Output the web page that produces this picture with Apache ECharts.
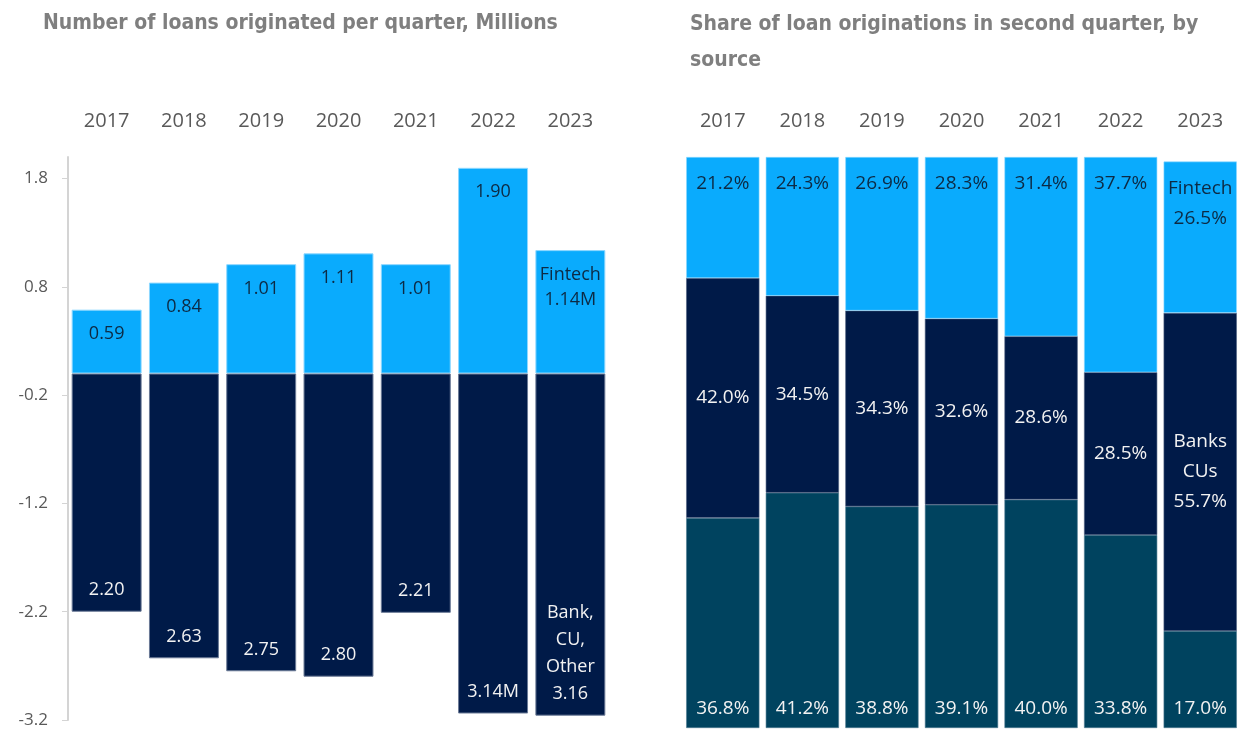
<!DOCTYPE html>
<html>
<head>
<meta charset="utf-8">
<script src="https://cdn.jsdelivr.net/npm/echarts@6/dist/echarts.min.js"></script>
<style>
	html, body { margin: 0; padding: 0; background: #fff; }
	#chart { width: 1244px; height: 729px; }
</style>
</head>
<body>
<div id="chart"></div>
<script>
	// data
	const years = ['2017', '2018', '2019', '2020', '2021', '2022', '2023'];
	// loans per quarter, millions
	const fintechLoans = [0.59, 0.84, 1.01, 1.11, 1.01, 1.90, 1.14];
	const bankLoans = [2.20, 2.63, 2.75, 2.80, 2.21, 3.14, 3.16];
	// share of originations, %
	const fintechShare = [21.2, 24.3, 26.9, 28.3, 31.4, 37.7, 26.5];
	const bankShare = [42.0, 34.5, 34.3, 32.6, 28.6, 28.5, 55.7];
	const otherShare = [36.8, 41.2, 38.8, 39.1, 40.0, 33.8, 17.0];
	const leftTicks = [-3.2, -2.2, -1.2, -0.2, 0.8, 1.8];

	const cLight = '#0aabfd';
	const cNavy = '#001a48';
	const cTeal = '#00435f';
	const labelFont = '"Open Sans", "Segoe UI", sans-serif';
	const titleFont = '"Liberation Sans Narrow", "DejaVu Sans Condensed", sans-serif';

	const lastIdx = years.length - 1;

	const chart = echarts.init(document.getElementById('chart'), null, { renderer: 'canvas' });

	const option = {
		animation: false,
		title: [{
			text: 'Number of loans originated per quarter, Millions',
			left: 38,
			top: 8,
			textStyle: { fontFamily: titleFont, fontSize: 21, fontWeight: 'bold', color: '#7f7f7f' }
		}, {
			text: 'Share of loan originations in second quarter, by\nsource',
			left: 685,
			top: 2,
			textStyle: { fontFamily: titleFont, fontSize: 21, fontWeight: 'bold', color: '#7f7f7f', lineHeight: 36 }
		}],
		grid: [
			{ left: 68, right: 635, top: 157, bottom: 9 },
			{ left: 683, right: 4, top: 157, bottom: 1 }
		],
		xAxis: [{
			type: 'category',
			gridIndex: 0,
			position: 'top',
			data: years,
			axisLine: { show: false },
			axisTick: { show: false },
			axisLabel: { margin: 26, fontFamily: labelFont, fontSize: 20, color: '#595959' }
		}, {
			type: 'category',
			gridIndex: 1,
			position: 'top',
			data: years,
			axisLine: { show: false },
			axisTick: { show: false },
			axisLabel: { margin: 26, fontFamily: labelFont, fontSize: 20, color: '#595959' }
		}],
		yAxis: [{
			type: 'value',
			gridIndex: 0,
			min: -3.2,
			max: 2.0,
			interval: 1,
			splitLine: { show: false },
			axisLine: { show: true, lineStyle: { color: '#d4d4d4', width: 2 } },
			axisTick: { show: true, length: 6, lineStyle: { color: '#d4d4d4', width: 1 } },
			axisLabel: {
				margin: 20,
				fontFamily: labelFont,
				fontSize: 17,
				color: '#595959',
				showMaxLabel: false,
				formatter: v => {
					const hit = leftTicks.find(t => Math.abs(t - v) < 1e-6);
					return hit === undefined ? '' : hit.toFixed(1);
				}
			}
		}, {
			type: 'value',
			gridIndex: 1,
			min: 0,
			max: 100,
			show: false
		}],
		series: [{
			name: 'Fintech',
			type: 'bar',
			xAxisIndex: 0,
			yAxisIndex: 0,
			data: fintechLoans,
			barCategoryGap: '9.5%',
			barGap: '-100%',
			itemStyle: { color: cLight, borderColor: '#8fd8ff', borderWidth: 1 },
			label: {
				show: true,
				position: 'insideTop',
				distance: 12,
				fontFamily: labelFont,
				fontSize: 18,
				lineHeight: 25,
				color: '#0d2a44',
				formatter: p => p.dataIndex === lastIdx
					? 'Fintech\n' + p.value.toFixed(2) + 'M'
					: p.value.toFixed(2)
			}
		}, {
			name: 'Bank, CU, Other',
			type: 'bar',
			xAxisIndex: 0,
			yAxisIndex: 0,
			data: bankLoans.map(v => -v),
			barCategoryGap: '9.5%',
			barGap: '-100%',
			itemStyle: { color: cNavy, borderColor: '#6a7a96', borderWidth: 1 },
			label: {
				show: true,
				position: 'insideBottom',
				distance: 8,
				fontFamily: labelFont,
				fontSize: 18,
				lineHeight: 27,
				color: '#f2f2f2',
				formatter: p => {
					const v = bankLoans[p.dataIndex].toFixed(2);
					if (p.dataIndex === lastIdx) return 'Bank,\nCU,\nOther\n' + v;
					if (p.dataIndex === 5) return v + 'M';
					return v;
				}
			}
		}, {
			name: 'Other',
			type: 'bar',
			xAxisIndex: 1,
			yAxisIndex: 1,
			stack: 'share',
			data: otherShare,
			barCategoryGap: '8%',
			itemStyle: { color: cTeal, borderColor: '#4d7a92', borderWidth: 0.6 },
			label: {
				show: true,
				position: 'insideBottom',
				distance: 10,
				fontFamily: labelFont,
				fontSize: 19,
				color: '#f2f2f2',
				formatter: p => p.value.toFixed(1) + '%'
			}
		}, {
			name: 'Banks CUs',
			type: 'bar',
			xAxisIndex: 1,
			yAxisIndex: 1,
			stack: 'share',
			data: bankShare,
			barCategoryGap: '8%',
			itemStyle: { color: cNavy, borderColor: '#4d5f80', borderWidth: 0.6 },
			label: {
				show: true,
				position: 'inside',
				fontFamily: labelFont,
				fontSize: 19,
				lineHeight: 30,
				color: '#f2f2f2',
				formatter: p => p.dataIndex === lastIdx
					? 'Banks\nCUs\n' + p.value.toFixed(1) + '%'
					: p.value.toFixed(1) + '%'
			}
		}, {
			name: 'Fintech share',
			type: 'bar',
			xAxisIndex: 1,
			yAxisIndex: 1,
			stack: 'share',
			data: fintechShare,
			barCategoryGap: '8%',
			itemStyle: { color: cLight, borderColor: '#8fd8ff', borderWidth: 0.6 },
			label: {
				show: true,
				position: 'insideTop',
				distance: 12,
				fontFamily: labelFont,
				fontSize: 19,
				lineHeight: 30,
				color: '#0d2a44',
				formatter: p => p.dataIndex === lastIdx
					? 'Fintech\n' + p.value.toFixed(1) + '%'
					: p.value.toFixed(1) + '%'
			}
		}]
	};

	chart.setOption(option);
</script>
</body>
</html>
